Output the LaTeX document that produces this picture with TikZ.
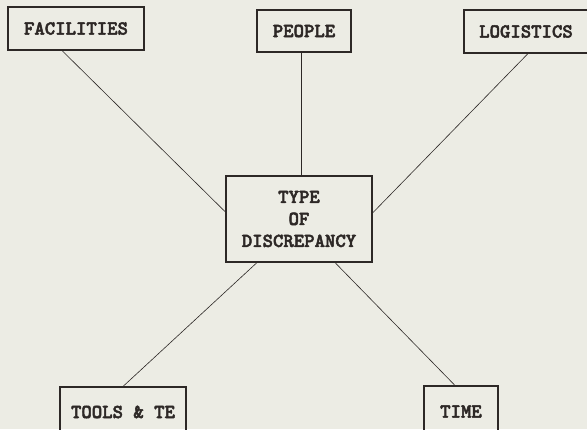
\documentclass[tikz,border=0pt]{standalone}
\usepackage{fontspec}
\newfontfamily\typefont{lmmonolt10-bold}[Extension=.otf,FakeBold=2.5]
\definecolor{paper}{RGB}{236,236,228}
\definecolor{ink}{RGB}{45,40,38}
\tikzset{
    boxfac/.style={draw=ink,line width=1.1pt,inner sep=0pt,align=center,font=\typefont\fontsize{19.8}{22}\selectfont,text=ink},
    link/.style={draw=ink,line width=0.6pt}
}
\begin{document}
\begin{tikzpicture}[x=1pt,y=-1pt]
        %---
        \fill[paper] (0,0) rectangle (587,429);
        \useasboundingbox (0,0) rectangle (587,429);

        %---
        \node[boxfac,minimum width=136pt,minimum height=43pt] (fac) at (76,28.5) {FACILITIES};
        \node[boxfac,minimum width=94pt,minimum height=42pt] (peo) at (304,31) {PEOPLE};
        \node[boxfac,minimum width=124pt,minimum height=43pt] (log) at (526,31.5) {LOGISTICS};
        \node[boxfac,minimum width=146pt,minimum height=86pt] (disc) at (299,219) {TYPE\\OF\\DISCREPANCY};
        \node[boxfac,minimum width=126pt,minimum height=50pt] (tool) at (123,412) {TOOLS \& TE};
        \node[boxfac,minimum width=74pt,minimum height=51pt] (time) at (461,411.5) {TIME};

        \begin{scope}[every path/.style={link}]
            \draw ([xshift=-14pt]fac.south) -- ([yshift=7pt]disc.west);
            \draw ([xshift=-3pt]peo.south) -- ([xshift=2pt]disc.north);
            \draw ([xshift=2pt]log.south) -- ([yshift=6pt]disc.east);
            \draw ([xshift=-42pt]disc.south) -- (tool.north);
            \draw ([xshift=36pt]disc.south) -- ([xshift=-6pt]time.north);
        \end{scope}
    \end{tikzpicture}
\end{document}
